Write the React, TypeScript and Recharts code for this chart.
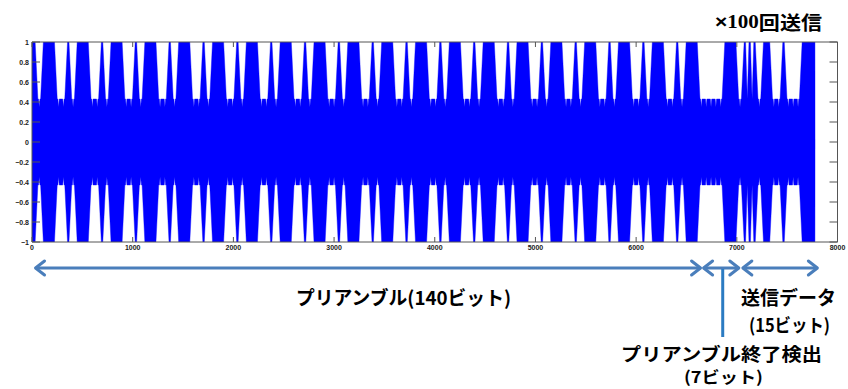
import React from 'react';
import { AreaChart, Area, XAxis, YAxis, ReferenceLine } from 'recharts';

// Preamble: 7-bit M-sequence sent 20 times (140 bits)
const preambleBits: string[] = [
  '1011100', '1011100', '1011100', '1011100', '1011100',
  '1011100', '1011100', '1011100', '1011100', '1011100',
  '1011100', '1011100', '1011100', '1011100', '1011100',
  '1011100', '1011100', '1011100', '1011100', '1011100',
];
// Preamble-end detection field (7 bits)
const endDetectBits = '0001110';
// Payload (15 bits)
const dataBits = '111011001000111';
// Bit boundaries inside a run of ones where the burst splits into separate pulses
const splitBoundaries = [148, 149];

const SAMPLES_PER_BIT = 48;

// Envelope amplitude levels of the modulated carrier
const HIGH = 1;
const LOW = 0.43;
const FLOOR = 0.35;

const xTicks = [0, 1000, 2000, 3000, 4000, 5000, 6000, 7000, 8000];
const yTicks = [-1, -0.8, -0.6, -0.4, -0.2, 0, 0.2, 0.4, 0.6, 0.8, 1];

// Bracket arrows under the waveform, in sample units
const arrowSpans: [number, number][] = [
  [35, 6640],
  [6670, 7020],
  [7060, 7800],
];
const markerSample = 6860;

const AXIS = '#555555';
const ARROW = '#4a7ebb';
const MARKER = '#2b7bc2';

// shape of the transitions, in bit units
const TOP_INSET = 0.35;
const BASE_OUTSET = 0.22;
const FINGER_HALF = 0.14;

type Pt = { x: number; range: [number, number] };

function buildEnvelope(): Pt[] {
  const bits = (preambleBits.join('') + endDetectBits + dataBits).split('').map(Number);
  const n = bits.length;
  const runs: { v: number; a: number; b: number }[] = [];
  let start = 0;
  for (let i = 1; i <= n; i++) {
    if (i === n || bits[i] !== bits[start] || (bits[i] === 1 && splitBoundaries.includes(i))) {
      runs.push({ v: bits[start], a: start, b: i });
      start = i;
    }
  }
  const pts: [number, number][] = [];
  runs.forEach((r, k) => {
    if (r.v === 1) {
      const prev = runs[k - 1];
      if (r.a === 0) pts.push([0, HIGH]);
      else if (prev && prev.v === 1) pts.push([r.a, LOW]);
      pts.push([r.a + TOP_INSET, HIGH]);
      if (r.b === n) {
        pts.push([n, HIGH]);
        pts.push([n + 0.02, 0]);
      } else {
        pts.push([r.b - TOP_INSET, HIGH]);
      }
    } else {
      pts.push([r.a + BASE_OUTSET, LOW]);
      for (let j = r.a; j < r.b; j++) {
        const c = j + 0.5;
        pts.push([c - FINGER_HALF, LOW], [c, FLOOR], [c + FINGER_HALF, LOW]);
      }
      pts.push([r.b - BASE_OUTSET, LOW]);
    }
  });
  return pts.map(([t, amp]) => ({ x: t * SAMPLES_PER_BIT, range: [-amp, amp] as [number, number] }));
}

const envelope = buildEnvelope();

const fmtY = (v: number) => (v === 0 ? '0' : (v < 0 ? '\u2212' : '') + String(Math.abs(v)));

const tickFont = {
  fontFamily: 'Liberation Sans, Arial, sans-serif',
  fontSize: 7,
  fontWeight: 700,
  fill: '#1a1a1a',
};

const LeftTick = (props: any) => {
  const { x, y, payload } = props;
  return (
    <g>
      <line x1={x} x2={x + 8} y1={y} y2={y} stroke={AXIS} strokeWidth={1} />
      <text x={x - 3} y={y} textAnchor="end" dominantBaseline="central" {...tickFont}>
        {fmtY(payload.value)}
      </text>
    </g>
  );
};

const RightTick = (props: any) => {
  const { x, y } = props;
  return <line x1={x} x2={x - 8} y1={y} y2={y} stroke={AXIS} strokeWidth={1} />;
};

const BottomTick = (props: any) => {
  const { x, y, payload } = props;
  return (
    <g>
      <line x1={x} x2={x} y1={y} y2={y - 5} stroke={AXIS} strokeWidth={1} />
      <text x={x} y={y + 5.5} textAnchor="middle" dominantBaseline="central" {...tickFont}>
        {String(payload.value)}
      </text>
    </g>
  );
};

const TopTick = (props: any) => {
  const { x, y } = props;
  return <line x1={x} x2={x} y1={y} y2={y + 5} stroke={AXIS} strokeWidth={1} />;
};

const ArrowShape = (props: any) => {
  const { x1, y1, x2, y2 } = props;
  const w = 9;
  const h = 7;
  return (
    <g fill="none" stroke={ARROW} strokeWidth={3} strokeLinecap="round" strokeLinejoin="round">
      <line x1={x1 + 1} y1={y1} x2={x2 - 1} y2={y2} />
      <polyline points={`${x1 + w},${y1 - h} ${x1},${y1} ${x1 + w},${y1 + h}`} />
      <polyline points={`${x2 - w},${y2 - h} ${x2},${y2} ${x2 - w},${y2 + h}`} />
    </g>
  );
};

const MarkerShape = (props: any) => {
  const { x1, y1, x2, y2 } = props;
  return <line x1={x1} y1={y1} x2={x2} y2={y2} stroke={MARKER} strokeWidth={3} />;
};

const jp = { fontFamily: '"Noto Sans CJK JP", sans-serif', fontWeight: 700, fill: '#000' } as const;

export default function App() {
  return (
    <div style={{ position: 'absolute', left: 0, top: 0, width: 848, height: 389, background: '#fff' }}>
      <AreaChart
        width={848}
        height={389}
        data={envelope}
        margin={{ top: 0, right: 0, bottom: 0, left: 0 }}
      >
        <Area
          dataKey="range"
          type="linear"
          stroke="#0000ff"
          strokeWidth={0.4}
          fill="#0000ff"
          fillOpacity={1}
          isAnimationActive={false}
          dot={false}
          activeDot={false}
        />
        <XAxis
          dataKey="x"
          type="number"
          domain={[0, 8000]}
          ticks={xTicks}
          interval={0}
          height={147}
          tickSize={0}
          tickMargin={0}
          tickLine={false}
          axisLine={{ stroke: AXIS }}
          tick={BottomTick}
          allowDataOverflow
        />
        <XAxis
          xAxisId="top"
          orientation="top"
          dataKey="x"
          type="number"
          domain={[0, 8000]}
          ticks={xTicks}
          interval={0}
          height={42}
          tickSize={0}
          tickMargin={0}
          tickLine={false}
          axisLine={{ stroke: AXIS }}
          tick={TopTick}
          allowDataOverflow
        />
        <YAxis
          type="number"
          domain={[-1, 1]}
          ticks={yTicks}
          interval={0}
          width={32}
          tickSize={0}
          tickMargin={0}
          tickLine={false}
          axisLine={{ stroke: AXIS }}
          tick={LeftTick}
          allowDataOverflow
        />
        <YAxis
          yAxisId="right"
          orientation="right"
          type="number"
          domain={[-1, 1]}
          ticks={yTicks}
          interval={0}
          width={10.5}
          tickSize={0}
          tickMargin={0}
          tickLine={false}
          axisLine={{ stroke: AXIS }}
          tick={RightTick}
          allowDataOverflow
        />
        {arrowSpans.map(([a, b], i) => (
          <ReferenceLine
            key={`arrow-${i}`}
            segment={[
              { x: a, y: -1.26 },
              { x: b, y: -1.26 },
            ]}
            ifOverflow="visible"
            shape={ArrowShape}
          />
        ))}
        <ReferenceLine
          segment={[
            { x: markerSample, y: -1.27 },
            { x: markerSample, y: -1.95 },
          ]}
          ifOverflow="visible"
          shape={MarkerShape}
        />
      </AreaChart>
      <svg
        width={848}
        height={389}
        style={{ position: 'absolute', left: 0, top: 0, pointerEvents: 'none' }}
      >
        <text x={715} y={21} dominantBaseline="central" fontSize={19} textLength={107} lengthAdjust="spacingAndGlyphs" {...jp}>
          <tspan fontFamily="Liberation Sans, sans-serif">×</tspan>
          <tspan fontFamily="Liberation Serif, serif">100</tspan>
          <tspan>回送信</tspan>
        </text>
        <text x={296} y={296} dominantBaseline="central" fontSize={19} textLength={215} lengthAdjust="spacingAndGlyphs" {...jp}>
          プリアンブル(140ビット)
        </text>
        <text x={741} y={296} dominantBaseline="central" fontSize={19} textLength={95} lengthAdjust="spacingAndGlyphs" {...jp}>
          送信データ
        </text>
        <text x={749} y={324} dominantBaseline="central" fontSize={18} textLength={81} lengthAdjust="spacingAndGlyphs" {...jp}>
          (15ビット)
        </text>
        <text x={621} y={353} dominantBaseline="central" fontSize={18} textLength={201} lengthAdjust="spacingAndGlyphs" {...jp}>
          プリアンブル終了検出
        </text>
        <text x={684} y={376} dominantBaseline="central" fontSize={16} textLength={79} lengthAdjust="spacingAndGlyphs" {...jp}>
          (7ビット)
        </text>
      </svg>
    </div>
  );
}
